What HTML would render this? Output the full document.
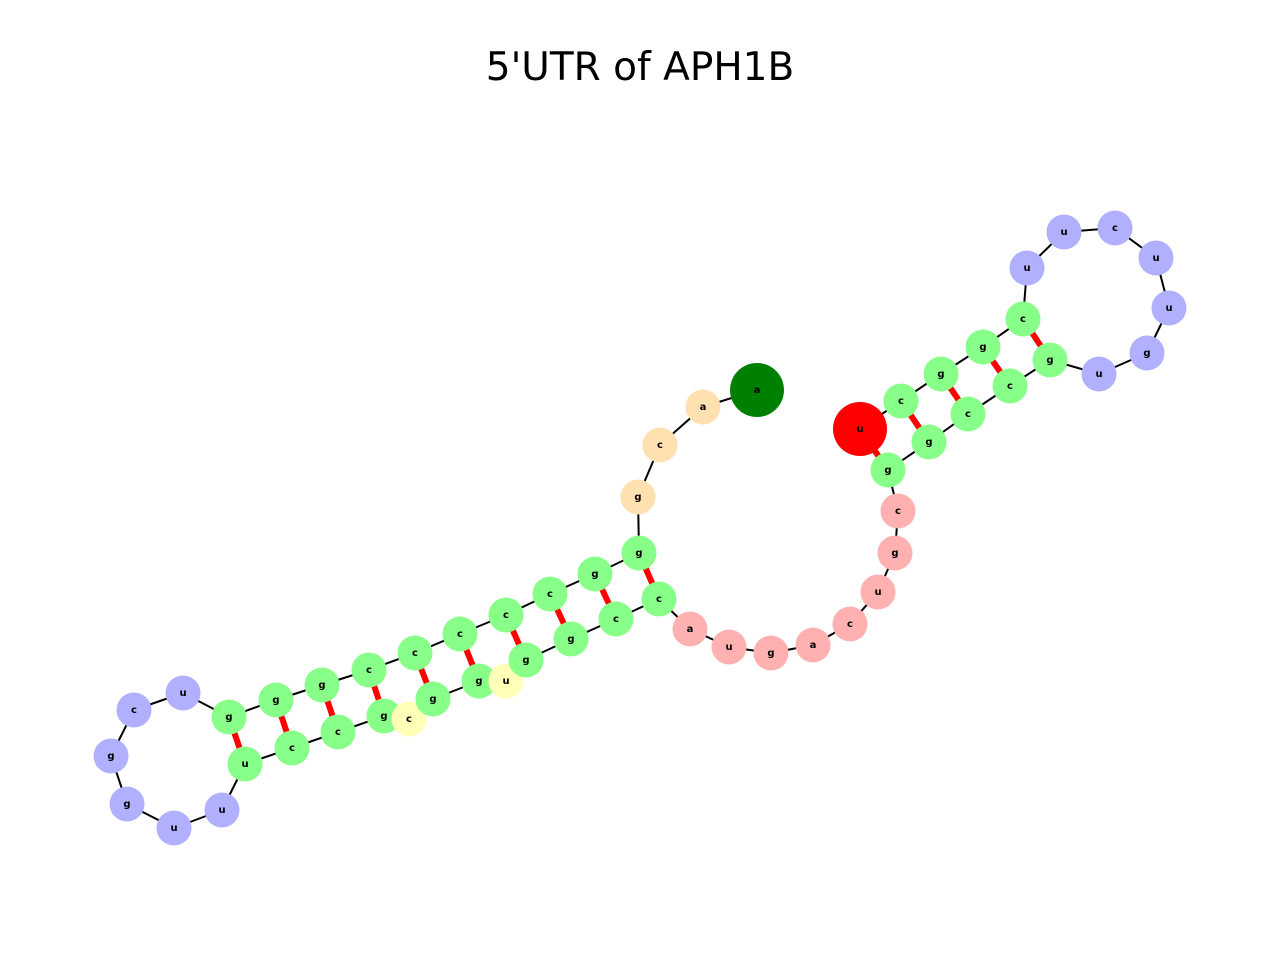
<!DOCTYPE html>
<html><head><meta charset="utf-8"><style>
html,body{margin:0;padding:0;background:#fff;}
svg{display:block;}
text{font-family:"DejaVu Sans","Liberation Sans",sans-serif;}
.l{font-size:10px;font-weight:bold;text-anchor:middle;dominant-baseline:central;fill:#000;}
</style></head><body>
<svg width="1280" height="960" viewBox="0 0 1280 960">
<rect width="1280" height="960" fill="#fff"/>
<text x="640" y="80" font-size="39" text-anchor="middle" style="font-family:'DejaVu Sans','Liberation Sans',sans-serif">5'UTR of APH1B</text>
<g id="g"></g>
</svg>
<script>
var N=[
[757,390,'a','#008000',27],[703,407,'a','#ffe0b0'],[660,445,'c','#ffe0b0'],[638,497,'g','#ffe0b0'],
[639,553,'g','#88ff88'],[595,574,'g','#88ff88'],[550,594,'c','#88ff88'],[506,615,'c','#88ff88'],
[460,634,'c','#88ff88'],[415,653,'c','#88ff88'],[369,670,'c','#88ff88'],[322,685,'g','#88ff88'],
[276,700,'g','#88ff88'],[229,717,'g','#88ff88'],[183,693,'u','#b0b0ff'],[134,710,'c','#b0b0ff'],
[111,756,'g','#b0b0ff'],[127,804,'g','#b0b0ff'],[174,828,'u','#b0b0ff'],[222,810,'u','#b0b0ff'],
[245,764,'u','#88ff88'],[292,748,'c','#88ff88'],[338,732,'c','#88ff88'],[384,716,'g','#88ff88'],
[409,719,'c','#ffffb8'],[433,699,'g','#88ff88'],[479,681,'g','#88ff88'],[506,681,'u','#ffffb8'],
[526,660,'g','#88ff88'],[571,639,'g','#88ff88'],[616,619,'c','#88ff88'],[659,599,'c','#88ff88'],
[690,629,'a','#ffb0b0'],[729,647,'u','#ffb0b0'],[771,653,'g','#ffb0b0'],[813,645,'a','#ffb0b0'],
[850,624,'c','#ffb0b0'],[878,592,'u','#ffb0b0'],[895,553,'g','#ffb0b0'],[898,511,'c','#ffb0b0'],
[888,470,'g','#88ff88'],[929,442,'g','#88ff88'],[968,414,'c','#88ff88'],[1010,386,'c','#88ff88'],
[1050,360,'g','#88ff88'],[1099,374,'u','#b0b0ff'],[1147,353,'g','#b0b0ff'],[1169,308,'u','#b0b0ff'],
[1156,258,'u','#b0b0ff'],[1115,228,'c','#b0b0ff'],[1064,232,'u','#b0b0ff'],[1027,268,'u','#b0b0ff'],
[1023,319,'c','#88ff88'],[983,347,'g','#88ff88'],[941,374,'g','#88ff88'],[901,401,'c','#88ff88'],
[860,429,'u','#ff0000',27]];
var P=[[5,32],[6,31],[7,30],[8,29],[9,27],[10,26],[11,24],[12,23],[13,22],[14,21],[53,45],[54,44],[55,43],[56,42],[57,41]];
var s='';
for(var i=0;i<N.length-1;i++)s+='<line x1="'+N[i][0]+'" y1="'+N[i][1]+'" x2="'+N[i+1][0]+'" y2="'+N[i+1][1]+'" stroke="#000" stroke-width="2"/>';
P.forEach(function(p){var a=N[p[0]-1],b=N[p[1]-1];s+='<line x1="'+a[0]+'" y1="'+a[1]+'" x2="'+b[0]+'" y2="'+b[1]+'" stroke="#f00" stroke-width="6"/>';});
N.forEach(function(n){s+='<circle cx="'+n[0]+'" cy="'+n[1]+'" r="'+(n[4]||17.5)+'" fill="'+n[3]+'"/><text class="l" x="'+n[0]+'" y="'+(n[1]+0.5)+'">'+n[2]+'</text>';});
document.getElementById('g').innerHTML=s;
</script>
</body></html>
